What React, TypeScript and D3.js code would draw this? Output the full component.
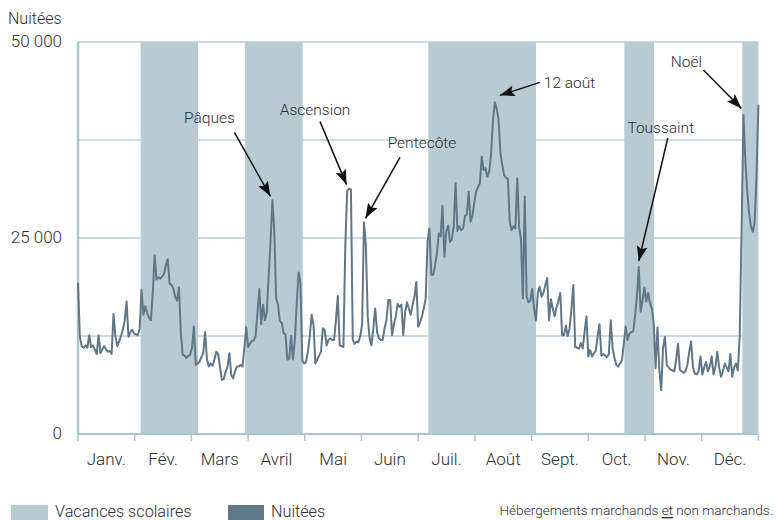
import React from 'react';
import * as d3 from 'd3';

// month labels of the x axis (12 equal slots)
const months = ['Janv.', 'Fév.', 'Mars', 'Avril', 'Mai', 'Juin', 'Juil.', 'Août', 'Sept.', 'Oct.', 'Nov.', 'Déc.'];
const yTickValues = [0, 25, 50]; // thousands
const gridValues = [12.5, 25, 37.5, 50];
const yTickLabels = ['0', '25 000', '50 000'];

// school holidays, as [first day, last day] (day 0 = 1 Jan)
const vacancesStart = [33.5, 89.4, 187.4, 292.3, 355.4];
const vacancesEnd = [64.2, 120.2, 245.0, 308.2, 364];

// daily overnight stays, thousands
const nuitees = [
  19.3, 12.4, 11.2, 11.0, 11.3, 11.0, 12.6, 11.1, 11.3, 10.8,
  10.2, 12.6, 10.3, 10.8, 11.2, 10.8, 10.5, 10.6, 10.2, 15.3,
  12.5, 11.2, 11.8, 12.5, 13.3, 14.5, 16.9, 12.4, 13.0, 13.3,
  12.8, 12.7, 12.6, 13.5, 18.4, 15.2, 16.3, 15.5, 14.8, 14.5,
  18.0, 22.8, 19.7, 20.0, 19.8, 20.1, 20.4, 21.5, 22.3, 19.2,
  19.0, 18.6, 17.5, 17.0, 18.7, 13.0, 10.1, 10.0, 9.7, 10.0,
  10.1, 11.0, 13.7, 8.8, 9.0, 9.2, 9.8, 10.3, 13.0, 9.5,
  8.6, 9.0, 8.7, 9.5, 10.5, 10.2, 8.5, 6.9, 7.0, 8.0,
  8.6, 10.3, 7.5, 7.1, 8.0, 8.6, 8.6, 8.8, 8.6, 11.0,
  13.6, 11.1, 11.5, 11.9, 11.9, 12.5, 15.5, 18.5, 14.0, 16.5,
  14.5, 15.5, 20.1, 24.5, 29.8, 26.0, 17.3, 16.5, 14.4, 14.2,
  12.9, 12.7, 9.5, 9.6, 12.5, 9.5, 12.0, 16.5, 20.6, 19.2,
  9.4, 9.0, 9.2, 10.5, 12.5, 15.2, 13.9, 9.0, 9.5, 10.0,
  10.5, 13.5, 13.2, 11.3, 12.0, 12.2, 12.0, 12.0, 14.5, 17.6,
  11.3, 11.2, 11.1, 24.0, 31.0, 31.3, 31.2, 12.0, 11.5, 11.8,
  11.7, 12.5, 14.0, 27.0, 24.1, 15.0, 12.2, 11.3, 13.5, 16.0,
  13.0, 12.2, 12.0, 12.0, 13.5, 14.5, 17.1, 17.1, 12.6, 14.0,
  15.0, 16.6, 16.2, 16.5, 12.6, 15.5, 16.8, 16.0, 15.2, 16.5,
  17.5, 19.4, 13.7, 14.2, 15.0, 16.0, 17.3, 24.5, 26.2, 20.3,
  20.3, 21.5, 23.0, 25.6, 25.2, 29.1, 22.6, 25.8, 26.6, 24.5,
  24.8, 26.5, 32.0, 25.9, 26.5, 26.0, 26.2, 27.8, 28.0, 30.9,
  27.1, 27.8, 29.5, 30.9, 31.5, 32.0, 35.4, 33.7, 33.9, 32.8,
  33.5, 35.7, 40.0, 42.3, 41.5, 40.1, 35.8, 34.3, 33.0, 32.7,
  32.5, 27.0, 26.0, 26.5, 26.2, 32.6, 26.4, 24.8, 17.3, 30.3,
  17.5, 16.8, 17.0, 18.5, 16.0, 14.5, 18.0, 18.8, 17.5, 18.0,
  19.0, 19.9, 14.5, 17.2, 16.0, 15.0, 16.1, 17.0, 18.0, 12.6,
  12.6, 13.8, 12.5, 13.5, 16.0, 19.0, 11.1, 11.0, 10.9, 11.6,
  10.9, 13.0, 15.0, 9.9, 10.7, 9.9, 10.3, 10.6, 12.5, 14.0,
  10.0, 10.2, 10.0, 9.8, 10.2, 14.5, 11.0, 9.7, 8.8, 8.6,
  9.0, 9.4, 11.5, 13.7, 12.0, 12.8, 13.0, 13.1, 15.0, 17.5,
  21.3, 15.6, 17.0, 18.7, 16.9, 18.0, 16.7, 16.0, 14.1, 8.4,
  13.6, 8.2, 5.6, 11.0, 12.4, 8.8, 8.5, 8.2, 8.1, 8.0,
  9.5, 11.5, 8.2, 8.0, 7.8, 8.0, 8.8, 10.5, 11.8, 8.5,
  7.7, 7.6, 8.0, 9.9, 7.6, 8.5, 9.2, 8.0, 8.6, 9.9,
  7.6, 8.5, 10.5, 8.5, 7.3, 8.0, 9.0, 8.5, 8.0, 10.2,
  7.3, 8.5, 9.0, 8.1, 12.4, 26.0, 40.7, 35.0, 31.0, 28.2,
  26.5, 25.8, 27.0, 33.0, 42.0,
];

// annotated days
const annotLabels = ['Pâques', 'Ascension', 'Pentecôte', '12 août', 'Toussaint', 'Noël'];
const annotDays = [104, 145, 153, 223, 300, 356];

// offsets from the annotated point (tip of arrow, start of arrow, label)
const annotLayout = [
  { tip: [-2, -4], from: [-38, -68], text: [-63, -82], anchor: 'middle' },
  { tip: [-2.5, -4], from: [-29, -67], text: [-34, -79], anchor: 'middle' },
  { tip: [1.5, -4], from: [36, -65], text: [58, -79], anchor: 'middle' },
  { tip: [5, -7], from: [45, -20], text: [49, -19], anchor: 'start' },
  { tip: [0, -6], from: [29, -129], text: [22, -139], anchor: 'middle' },
  { tip: [-2, -6.5], from: [-40, -45], text: [-57, -53], anchor: 'middle' },
];

const W = 776;
const H = 520;
const left = 78;
const right = 758.4;
const top = 42;
const bottom = 434;

const bandColor = '#b8cbd2';
const lineColor = '#5f7787';
const gridColor = '#b9d0da';
const axisColor = '#a9c6d3';
const textColor = '#2e2e2e';
const font = 'Roboto, "Noto Sans", sans-serif';

export default function App() {
  const x = d3.scaleLinear().domain([0, nuitees.length - 1]).range([left, right]);
  const xMonth = d3.scaleLinear().domain([0, 12]).range([left, right]);
  const y = d3.scaleLinear().domain([0, 50]).range([bottom, top]);

  const line = d3.line<number>()
    .x((_, i) => x(i))
    .y(d => y(d));

  return (
    <svg width={W} height={H} style={{ position: 'absolute', left: 0, top: 0 }} fontFamily={font} fontWeight={300}>
      <defs>
        <marker id="arrow" markerUnits="userSpaceOnUse" markerWidth={15} markerHeight={11}
          refX={15} refY={5.5} orient="auto">
          <path d="M0,0 L15,5.5 L0,11 L3,5.5 Z" fill="#111" />
        </marker>
      </defs>

      {/* gridlines */}
      {gridValues.map(v => (
        <line key={v} x1={left} x2={right} y1={y(v)} y2={y(v)} stroke={gridColor} strokeWidth={1.5} />
      ))}

      {/* school holidays */}
      {vacancesStart.map((s, i) => (
        <rect key={i} x={x(s)} y={top} width={x(vacancesEnd[i]) - x(s)} height={bottom - top} fill={bandColor} />
      ))}

      {/* axes */}
      <line x1={left} x2={left} y1={top} y2={bottom} stroke={axisColor} strokeWidth={2.5} />
      <line x1={left} x2={right} y1={bottom} y2={bottom} stroke={axisColor} strokeWidth={2} />
      {d3.range(13).map(i => (
        <line key={i} x1={xMonth(i)} x2={xMonth(i)} y1={bottom} y2={bottom + 7} stroke={axisColor} strokeWidth={1.5} />
      ))}
      {months.map((m, i) => (
        <text key={m} x={xMonth(i + 0.5)} y={459} textAnchor="middle" dominantBaseline="central"
          fontSize={17} fill={textColor}>{m}</text>
      ))}
      {yTickValues.map((v, i) => (
        <text key={v} x={62} y={y(v) - 1} textAnchor="end" dominantBaseline="central"
          fontSize={17} fill={textColor}>{yTickLabels[i]}</text>
      ))}
      <text x={8} y={18} dominantBaseline="central" fontSize={16} fill={textColor}>Nuitées</text>

      {/* series */}
      <path d={line(nuitees) || ''} fill="none" stroke={lineColor} strokeWidth={2} strokeLinejoin="round" />

      {/* annotations */}
      {annotLabels.map((label, i) => {
        const d = annotDays[i];
        const px = x(d);
        const py = y(nuitees[d]);
        const a = annotLayout[i];
        return (
          <g key={label}>
            <line x1={px + a.from[0]} y1={py + a.from[1]} x2={px + a.tip[0]} y2={py + a.tip[1]}
              stroke="#111" strokeWidth={1.5} markerEnd="url(#arrow)" />
            <text x={px + a.text[0]} y={py + a.text[1]} textAnchor={a.anchor} dominantBaseline="central"
              fontSize={15.5} fill={textColor}>{label}</text>
          </g>
        );
      })}

      {/* legend */}
      <rect x={11} y={505} width={37} height={15} fill={bandColor} />
      <text x={55} y={511} dominantBaseline="central" fontSize={16.2} fill={textColor}>Vacances scolaires</text>
      <rect x={228} y={505} width={36} height={15} fill={lineColor} />
      <text x={271} y={511} dominantBaseline="central" fontSize={16.2} fill={textColor}>Nuitées</text>

      <text x={773} y={510} textAnchor="end" dominantBaseline="central" fontSize={13.6} fill={textColor}>
        Hébergements marchands <tspan textDecoration="underline">et</tspan> non marchands.
      </text>
    </svg>
  );
}
